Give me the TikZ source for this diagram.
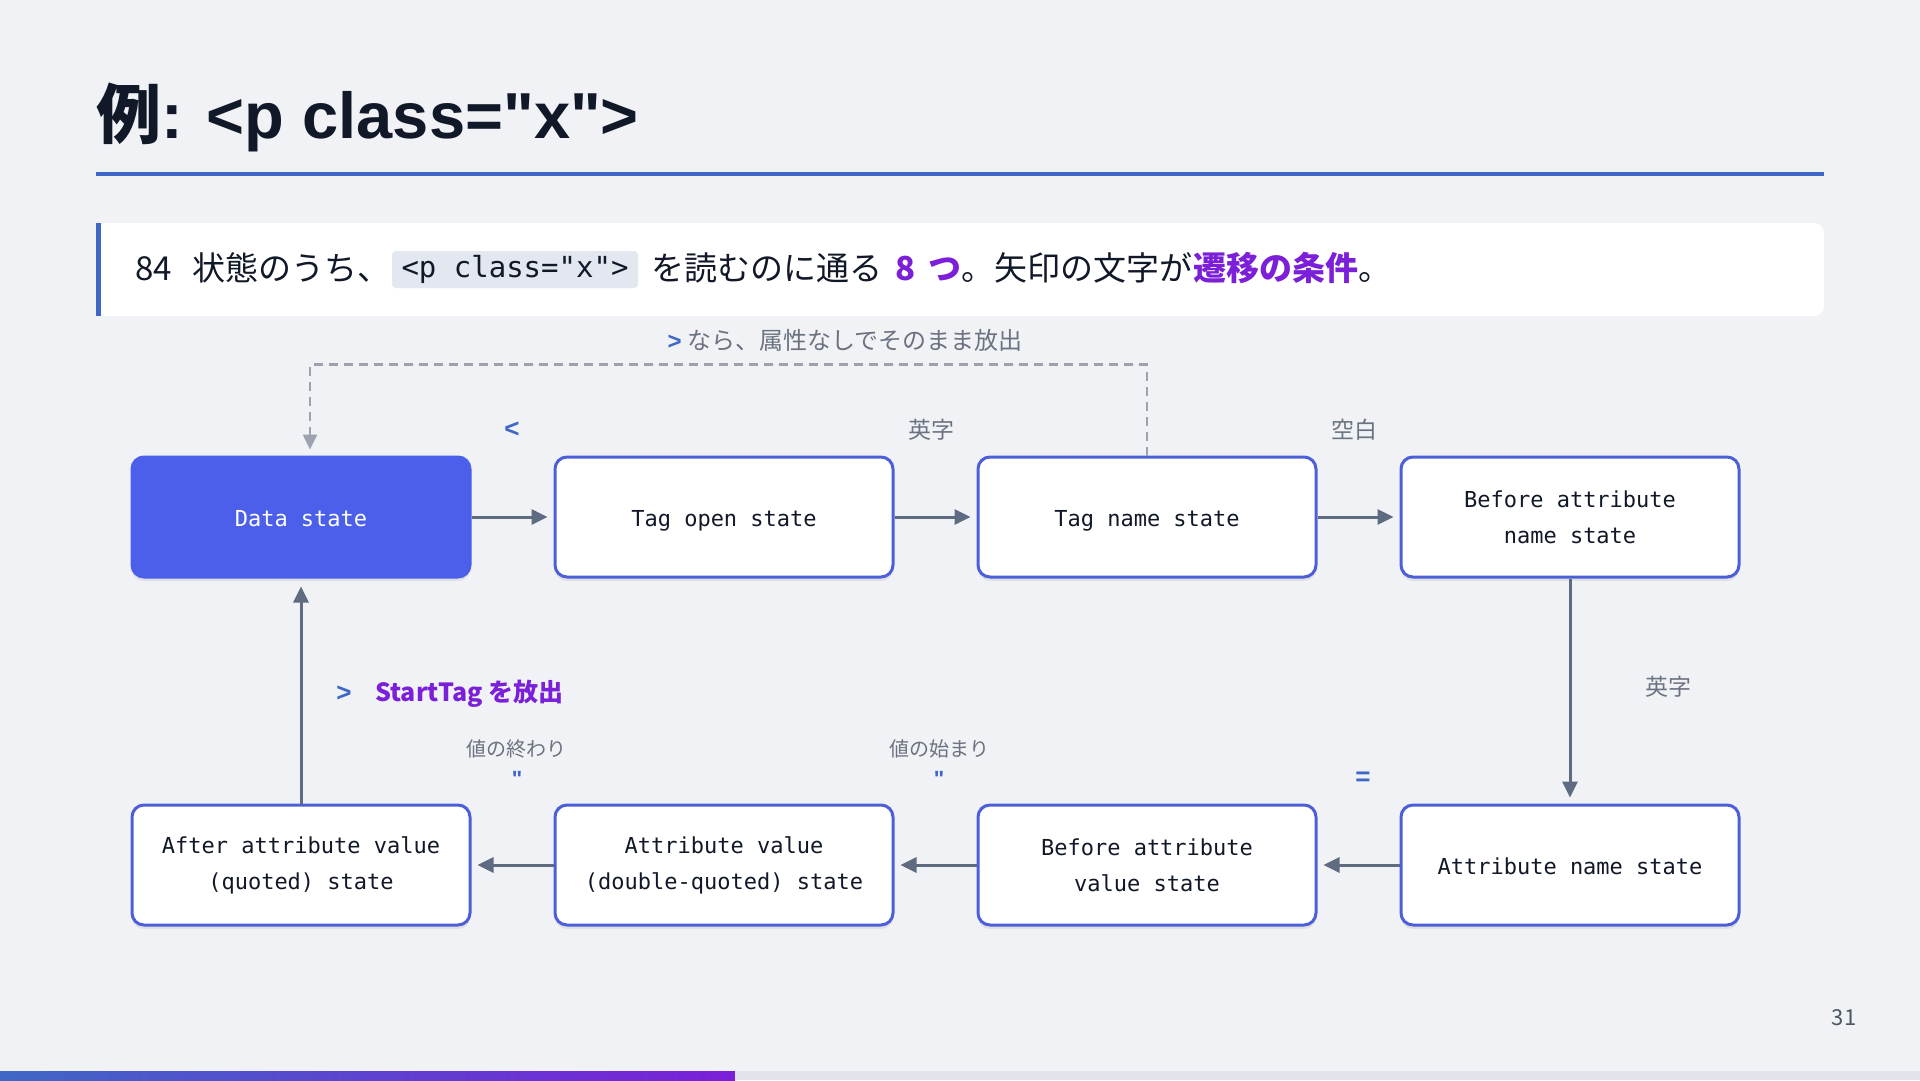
\documentclass[tikz,border=0pt]{standalone}
\usepackage{fontspec}
\setmainfont{Noto Sans CJK JP}
\newfontfamily\latinb{Liberation Sans Bold}
\setmonofont{DejaVu Sans Mono}
\usetikzlibrary{arrows.meta,shadows}
\definecolor{bg}{HTML}{F0F2F6}
\definecolor{ink}{HTML}{111827}
\definecolor{accent}{HTML}{3F67C6}
\definecolor{purp}{HTML}{7B1FD8}
\definecolor{nodeblue}{HTML}{4B5FEA}
\definecolor{border}{HTML}{4D5FD8}
\definecolor{arrowc}{HTML}{5F6B80}
\definecolor{dashc}{HTML}{9CA3AF}
\definecolor{lab}{HTML}{6B7280}
\definecolor{chip}{HTML}{E3E7EF}
\definecolor{barbg}{HTML}{E1E4EA}
\definecolor{pnum}{HTML}{4B5563}
\begin{document}
\begin{tikzpicture}[x=1pt,y=-1pt,
  stbox/.style={draw=border, line width=3pt, fill=white, rounded corners=12pt,
    minimum width=338pt, minimum height=120pt, align=center, text=ink,
    font=\fontsize{22}{36}\selectfont\ttfamily,
    drop shadow={shadow xshift=0pt, shadow yshift=-4pt, opacity=0.07, fill=black}},
  oneline/.style={text height=20pt, text depth=2pt},
  arr/.style={draw=arrowc, line width=3pt, -{Triangle[length=16pt,width=15pt]}, shorten >=6pt},
  dasharr/.style={draw=dashc, line width=2.5pt, dash pattern=on 9pt off 6pt, -{Triangle[length=15pt,width=14pt]}, shorten >=6pt},
  lbl/.style={text=lab, inner sep=0pt, font=\fontsize{23}{26}\selectfont},
  slbl/.style={text=lab, inner sep=0pt, font=\fontsize{20}{24}\selectfont},
  sym/.style={text=accent, inner sep=0pt, font=\fontsize{26}{28}\selectfont\latinb},
  cal/.style={anchor=base west, inner sep=0pt, text=ink, font=\fontsize{33}{36}\selectfont}
]
\useasboundingbox (0,0) rectangle (1920,1080);
\fill[bg] (0,0) rectangle (1920,1080);

% title
\node[anchor=base west, inner sep=0pt, text=ink, font=\fontsize{65}{70}\selectfont\bfseries] (title) at (96,138) {例{\latinb: <p class="x">}};
\fill[accent] (96,172) rectangle (1824,176);

% callout
\fill[white, rounded corners=10pt] (96,223) rectangle (1824,316);
\fill[accent] (96,223) rectangle (101,316);
\node[cal] (c1) at (135,280) {84};
\node[cal] (c2) at (192,280) {状態のうち、};
\node[fill=chip, rounded corners=4pt, minimum width=246pt, minimum height=37pt, inner sep=0pt, text=ink, font=\fontsize{29}{32}\selectfont\ttfamily] (chip) at (515,269.5) {<p class="x">};
\node[cal] (c3) at (651,280) {を読むのに通る};
\node[cal, text=purp, font=\fontsize{33}{36}\selectfont\bfseries] (c4) at (895,280) {8\hspace{0.4em}つ};
\node[cal] (c5) at (c4.base east) {。矢印の文字が};
\node[cal, text=purp, font=\fontsize{33}{36}\selectfont\bfseries] (c6) at (c5.base east) {遷移の条件};
\node[cal] (c7) at (c6.base east) {。};

% states
\node[stbox, oneline, fill=nodeblue, draw=nodeblue, text=white] (data) at (301,517) {Data state};
\node[stbox, oneline] (topen) at (724,517) {Tag open state};
\node[stbox, oneline] (tname) at (1147,517) {Tag name state};
\node[stbox] (battn) at (1570,517) {Before attribute\\name state};
\node[stbox, oneline] (aname) at (1570,865) {Attribute name state};
\node[stbox] (bval) at (1147,865) {Before attribute\\value state};
\node[stbox] (aval) at (724,865) {Attribute value\\(double-quoted) state};
\node[stbox] (after) at (301,865) {After attribute value\\(quoted) state};

% transitions
\draw[arr] (data) -- (topen);
\draw[arr] (topen) -- (tname);
\draw[arr] (tname) -- (battn);
\draw[arr] (battn) -- (aname);
\draw[arr] (aname) -- (bval);
\draw[arr] (bval) -- (aval);
\draw[arr] (aval) -- (after);
\draw[arr, shorten >=8pt] (after) -- (data);
\coordinate (dtop) at ([xshift=9pt]data.north);
\draw[dasharr] (tname.north) -- ++(0,-91) -| (dtop);

% labels
\node[anchor=center, inner sep=0pt, text=lab, font=\fontsize{24}{26}\selectfont] (dl) at (845,340) {{\latinb\color{accent}>} なら、属性なしでそのまま放出};
\node[sym] (l1) at (512,430) {<};
\node[lbl] (l2) at (931,430) {英字};
\node[lbl] (l3) at (1354,430) {空白};
\node[lbl] (l4) at (1668,687) {英字};
\node[sym] (l5) at (1363,779) {=};
\node[slbl] (l6) at (939,749) {値の始まり};
\node[sym, font=\fontsize{22}{24}\selectfont\latinb] (l6q) at (939,779) {"};
\node[slbl] (l7) at (516,749) {値の終わり};
\node[sym, font=\fontsize{22}{24}\selectfont\latinb] (l7q) at (517,779) {"};
\node[sym] (l8) at (344,694) {>};
\node[anchor=west, inner sep=0pt, text=purp, font=\fontsize{25}{27}\selectfont\bfseries] (l8t) at (375,694) {StartTag を放出};

% footer
\node[text=pnum, inner sep=0pt, font=\fontsize{22}{24}\selectfont] (pg) at (1844,1018) {31};
\shade[left color=accent, right color=purp] (0,1071) rectangle (735,1080);
\fill[barbg] (735,1071) rectangle (1920,1080);
\end{tikzpicture}
\end{document}
